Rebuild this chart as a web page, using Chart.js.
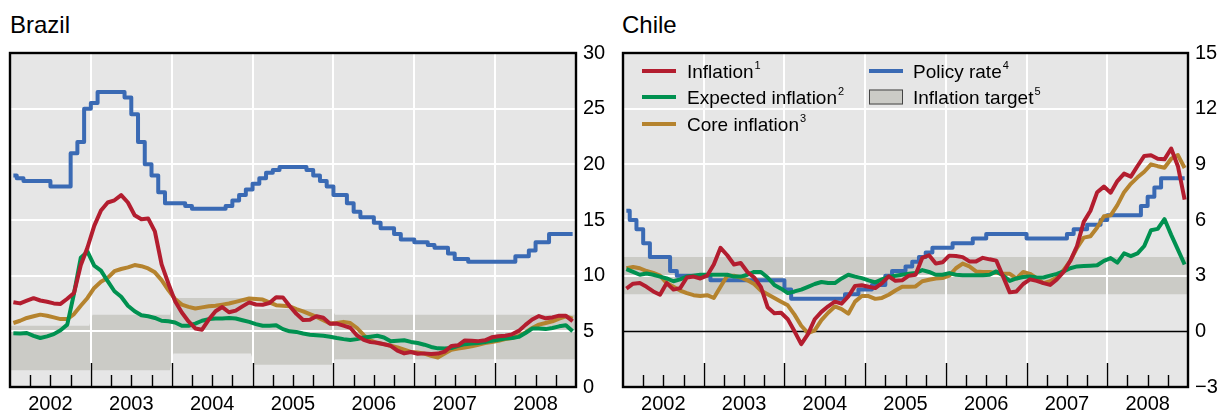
<!DOCTYPE html>
<html>
<head>
<meta charset="utf-8">
<script src="https://cdn.jsdelivr.net/npm/chart.js@4.4.1/dist/chart.umd.min.js"></script>
<style>
  body { margin: 0; background: #fff; width: 1218px; height: 412px; overflow: hidden; font-family: "Liberation Sans", Arial, sans-serif; }
  .panel { position: absolute; top: 0; height: 412px; }
  .title { position: absolute; top: 11px; font-size: 24px; color: #000; }
</style>
</head>
<body>
<div class="title" style="left:10px">Brazil</div>
<div class="title" style="left:622px">Chile</div>
<div class="panel" style="left:0;width:612px"><canvas id="brazil-chart"></canvas></div>
<div class="panel" style="left:610px;width:608px"><canvas id="chile-chart"></canvas></div>

<script>
// years on the x axis, monthly data from Jan 2002 to Dec 2008
var years = [2002, 2003, 2004, 2005, 2006, 2007, 2008];
var yearLabels = ['2002', '2003', '2004', '2005', '2006', '2007', '2008'];

var brazilTicks = [0, 5, 10, 15, 20, 25, 30];
var chileTicks = [-3, 0, 3, 6, 9, 12, 15];

// Brazil
var brazilInflation = [
    7.62, 7.51, 7.75, 7.98, 7.77, 7.66, 7.51, 7.46, 7.93, 8.45, 10.93, 12.53,
    14.47, 15.85, 16.57, 16.77, 17.24, 16.57, 15.43, 15.07, 15.14, 13.98, 11.02, 9.30,
    7.71, 6.69, 5.89, 5.26, 5.15, 6.06, 6.81, 7.18, 6.71, 6.86, 7.24, 7.60,
    7.41, 7.39, 7.54, 8.07, 8.05, 7.27, 6.57, 6.02, 6.04, 6.36, 6.22, 5.69,
    5.70, 5.51, 5.32, 4.63, 4.23, 4.03, 3.97, 3.84, 3.70, 3.26, 3.02, 3.14,
    2.99, 3.02, 2.96, 3.00, 3.18, 3.69, 3.74, 4.18, 4.15, 4.12, 4.19, 4.46,
    4.56, 4.61, 4.73, 5.04, 5.58, 6.06, 6.37, 6.17, 6.25, 6.41, 6.39, 5.90
];
var brazilExpected = [
    4.82, 4.8, 4.85, 4.6, 4.4, 4.55, 4.75, 5.1, 5.6, 8.4, 11.6, 12.15,
    10.9, 10.45, 9.5, 8.6, 8.1, 7.3, 6.8, 6.45, 6.35, 6.2, 5.95, 5.9,
    5.8, 5.5, 5.5, 5.7, 5.95, 6.1, 6.15, 6.15, 6.2, 6.15, 6.0, 5.85,
    5.65, 5.5, 5.5, 5.55, 5.2, 5.0, 4.95, 4.8, 4.7, 4.65, 4.6, 4.52,
    4.4, 4.3, 4.22, 4.3, 4.45, 4.52, 4.6, 4.45, 4.1, 4.15, 4.2, 4.05,
    3.95, 3.8, 3.6, 3.47, 3.45, 3.5, 3.7, 3.85, 3.9, 3.95, 4.05, 4.15,
    4.25, 4.35, 4.4, 4.5, 4.85, 5.25, 5.25, 5.2, 5.3, 5.45, 5.55, 5.0
];
var brazilCore = [
    5.75, 5.95, 6.2, 6.35, 6.5, 6.4, 6.25, 6.1, 6.1, 6.55, 7.3, 8.0,
    8.9, 9.45, 9.8, 10.4, 10.6, 10.75, 10.95, 10.85, 10.65, 10.3, 9.6, 8.7,
    7.9, 7.4, 7.2, 7.05, 7.15, 7.25, 7.3, 7.4, 7.5, 7.65, 7.8, 7.95,
    7.9, 7.85, 7.6, 7.35, 7.3, 7.25, 7.0, 6.8, 6.55, 6.3, 6.0, 5.7,
    5.75, 5.85, 5.75, 5.3, 4.65, 4.2, 3.95, 3.85, 3.7, 3.55, 3.35, 3.15,
    3.1, 3.0, 2.8, 2.65, 3.0, 3.35, 3.45, 3.55, 3.65, 3.8, 3.95, 4.05,
    4.15, 4.3, 4.4, 4.6, 4.9, 5.3, 5.6, 5.75, 5.9, 6.15, 6.35, 6.15
];
var brazilPolicy = [
    19, 18.75, 18.5, 18.5, 18.5, 18.5, 18, 18, 18, 21, 22, 25,
    25.5, 26.5, 26.5, 26.5, 26.5, 26, 24.5, 22, 20, 19, 17.5, 16.5,
    16.5, 16.5, 16.25, 16, 16, 16, 16, 16, 16.25, 16.75, 17.25, 17.75,
    18.25, 18.75, 19.25, 19.5, 19.75, 19.75, 19.75, 19.75, 19.5, 19, 18.5, 18,
    17.25, 17.25, 16.5, 15.75, 15.25, 15.25, 14.75, 14.25, 14.25, 13.75, 13.25, 13.25,
    13, 13, 12.75, 12.5, 12.5, 12, 11.5, 11.5, 11.25, 11.25, 11.25, 11.25,
    11.25, 11.25, 11.25, 11.75, 11.75, 12.25, 13, 13, 13.75, 13.75, 13.75, 13.75
];
var brazilTargetUpper = [5.5, 6.5, 8, 7, 6.5, 6.5, 6.5];
var brazilTargetLower = [1.5, 1.5, 3, 2, 2.5, 2.5, 2.5];

// Chile
var chileInflation = [
    2.3, 2.57, 2.6, 2.4, 2.15, 1.97, 2.6, 2.25, 2.33, 2.9, 2.95, 2.85,
    3.0, 3.6, 4.5, 4.1, 3.6, 3.68, 3.2, 2.9, 2.4, 1.3, 0.98, 1.0,
    0.65, 0.0, -0.69, -0.15, 0.65, 1.05, 1.35, 1.6, 1.49, 1.88, 2.45, 2.48,
    2.4, 2.33, 2.6, 2.96, 2.72, 2.75, 3.0, 3.05, 3.96, 4.1, 3.65, 3.72,
    4.08, 4.06, 4.0, 3.77, 3.77, 3.96, 3.88, 3.81, 2.96, 2.1, 2.15, 2.55,
    2.8, 2.72, 2.6, 2.5, 2.8, 3.2, 3.8, 4.6, 5.9, 6.5, 7.5, 7.8,
    7.47, 8.1, 8.5, 8.34, 8.91, 9.45, 9.49, 9.3, 9.27, 9.85, 8.9, 7.1
];
var chileExpected = [
    3.35, 3.2, 3.05, 3.12, 3.05, 2.95, 2.85, 2.7, 2.8, 2.95, 3.0, 3.05,
    3.05, 3.05, 3.05, 3.05, 2.95, 2.95, 3.05, 3.2, 3.2, 2.9, 2.5, 2.3,
    2.06, 2.15, 2.25, 2.4, 2.55, 2.66, 2.6, 2.6, 2.85, 3.05, 2.95, 2.87,
    2.75, 2.64, 2.8, 2.93, 3.0, 3.05, 3.1, 3.15, 3.3, 3.2, 3.05, 3.05,
    3.14, 3.05, 3.02, 3.02, 3.02, 3.02, 3.05, 3.23, 3.0, 2.72, 2.85, 2.93,
    2.96, 2.9, 2.9, 3.0, 3.1, 3.23, 3.4, 3.5, 3.52, 3.54, 3.56, 3.8,
    3.95, 3.7, 4.2, 4.05, 4.2, 4.6, 5.45, 5.52, 6.05, 5.2, 4.4, 3.6
];
var chileCore = [
    3.4, 3.47, 3.4, 3.25, 3.15, 3.0, 2.6, 2.4, 2.2, 2.06, 1.95, 1.9,
    1.95, 1.8, 2.4, 3.0, 3.0, 2.9, 2.75, 2.55, 2.2, 2.0, 1.8, 1.6,
    1.4, 0.9, 0.3, -0.1, 0.05, 0.6, 1.0, 1.34, 1.2, 0.95, 1.6, 1.9,
    1.9, 1.75, 1.8, 1.97, 2.2, 2.4, 2.4, 2.42, 2.7, 2.78, 2.85, 2.87,
    3.0, 3.4, 3.65, 3.5, 3.23, 3.2, 3.2, 3.15, 3.1, 3.1, 2.85, 3.2,
    3.1, 2.87, 2.6, 2.7, 2.9, 3.3, 3.8, 4.5, 5.05, 5.12, 5.6, 6.2,
    6.25, 6.8, 7.5, 7.95, 8.3, 8.6, 9.0, 8.9, 8.82, 9.3, 9.5, 8.8
];
var chilePolicy = [
    6.5, 6.0, 5.5, 4.75, 4.0, 4.0, 4.0, 3.25, 3.0, 3.0, 3.0, 3.0,
    3.0, 2.75, 2.75, 2.75, 2.75, 2.75, 2.75, 2.75, 2.75, 2.75, 2.75, 2.75,
    2.25, 1.75, 1.75, 1.75, 1.75, 1.75, 1.75, 1.75, 1.75, 2.0, 2.0, 2.25,
    2.25, 2.5, 2.5, 3.0, 3.25, 3.25, 3.5, 3.75, 4.0, 4.25, 4.5, 4.5,
    4.5, 4.75, 4.75, 4.75, 5.0, 5.0, 5.25, 5.25, 5.25, 5.25, 5.25, 5.25,
    5.0, 5.0, 5.0, 5.0, 5.0, 5.0, 5.25, 5.5, 5.5, 5.75, 5.75, 6.0,
    6.25, 6.25, 6.25, 6.25, 6.25, 6.75, 7.25, 7.75, 8.25, 8.25, 8.25, 8.25
];
var chileTargetUpper = [4, 4, 4, 4, 4, 4, 4];
var chileTargetLower = [2, 2, 2, 2, 2, 2, 2];

var legendLabels = ['Inflation', 'Expected inflation', 'Core inflation', 'Policy rate', 'Inflation target'];
var legendNotes = ['1', '2', '3', '4', '5'];

var colorInflation = '#b31d2f';
var colorExpected = '#009150';
var colorCore = '#b5832e';
var colorPolicy = '#3a6ab4';
var colorBand = '#cbcbc6';
var colorPlot = '#e6e6e6';
var fontFamily = '"Liberation Sans", Arial, sans-serif';

Chart.defaults.font.family = fontFamily;
Chart.defaults.color = '#000';

function monthly(values) {
    return values.map(function (v, i) {
        return { x: years[0] + (i + 0.5) / 12, y: v };
    });
}

// target band: flat for each year, short slant between years
function band(values) {
    var pts = [];
    values.forEach(function (v, k) {
        var yr = years[k];
        pts.push({ x: k === 0 ? yr : yr + 0.02, y: v });
        pts.push({ x: k === values.length - 1 ? yr + 1 : yr + 0.98, y: v });
    });
    return pts;
}

function lineSet(label, color, values, stepped) {
    return {
        label: label,
        data: monthly(values),
        borderColor: color,
        borderWidth: 4,
        pointRadius: 0,
        fill: false,
        stepped: stepped ? 'middle' : false,
        borderJoinStyle: 'round'
    };
}

var panelPlugin = {
    id: 'panel',
    beforeDraw: function (chart) {
        var a = chart.chartArea, ctx = chart.ctx;
        ctx.save();
        ctx.fillStyle = colorPlot;
        ctx.fillRect(a.left, a.top, a.right - a.left, a.bottom - a.top);
        ctx.restore();
    },
    afterDatasetDraw: function (chart, args) {
        if (!chart.data.datasets[args.index].gridAfter) return;
        var a = chart.chartArea, ctx = chart.ctx;
        var xs = chart.scales.x, ys = chart.scales.y;
        ctx.save();
        ctx.strokeStyle = '#fff';
        ctx.lineWidth = 2;
        ctx.beginPath();
        years.slice(1).forEach(function (yr) {
            var px = Math.round(xs.getPixelForValue(yr));
            ctx.moveTo(px, a.top);
            ctx.lineTo(px, a.bottom);
        });
        ys.ticks.forEach(function (t) {
            if (t.value === ys.min || t.value === ys.max || t.value === 0) return;
            var py = Math.round(ys.getPixelForValue(t.value));
            ctx.moveTo(a.left, py);
            ctx.lineTo(a.right, py);
        });
        ctx.stroke();
        if (ys.min < 0) {
            var zy = Math.round(ys.getPixelForValue(0)) + 0.5;
            ctx.strokeStyle = '#000';
            ctx.lineWidth = 1.3;
            ctx.beginPath();
            ctx.moveTo(a.left, zy);
            ctx.lineTo(a.right, zy);
            ctx.stroke();
        }
        ctx.restore();
    },
    afterDraw: function (chart) {
        var a = chart.chartArea, ctx = chart.ctx, xs = chart.scales.x;
        ctx.save();
        ctx.strokeStyle = '#000';
        ctx.lineWidth = 1.4;
        ctx.beginPath();
        years.forEach(function (yr, k) {
            for (var q = 0; q < 4; q++) {
                if (k === 0 && q === 0) continue;
                var px = Math.round(xs.getPixelForValue(yr + q / 4)) + 0.5;
                ctx.moveTo(px, a.bottom);
                ctx.lineTo(px, a.bottom - (q === 0 ? 24 : 12));
            }
        });
        ctx.stroke();
        ctx.lineWidth = 2.4;
        ctx.strokeRect(a.left, a.top, a.right - a.left, a.bottom - a.top);
        ctx.restore();
    }
};

var legendPlugin = {
    id: 'innerLegend',
    afterDraw: function (chart) {
        var a = chart.chartArea, ctx = chart.ctx;
        var colors = [colorInflation, colorExpected, colorCore, colorPolicy];
        var rows = [18, 44, 71];
        ctx.save();
        legendLabels.forEach(function (label, i) {
            var col = i < 3 ? 0 : 1;
            var row = i < 3 ? i : i - 3;
            var sx = a.left + (col === 0 ? 19 : 246);
            var tx = a.left + (col === 0 ? 64 : 290);
            var y = a.top + rows[row];
            if (i < 4) {
                ctx.strokeStyle = colors[i];
                ctx.lineWidth = 4;
                ctx.beginPath();
                ctx.moveTo(sx, y);
                ctx.lineTo(sx + 34, y);
                ctx.stroke();
            } else {
                ctx.fillStyle = colorBand;
                ctx.fillRect(sx, y - 7.5, 34, 15);
                ctx.strokeStyle = '#444';
                ctx.lineWidth = 1;
                ctx.strokeRect(sx + 0.5, y - 7, 33, 14);
            }
            ctx.fillStyle = '#000';
            ctx.textBaseline = 'alphabetic';
            ctx.font = '19px ' + fontFamily;
            ctx.fillText(label, tx, y + 7);
            var w = ctx.measureText(label).width;
            ctx.font = '11px ' + fontFamily;
            ctx.fillText(legendNotes[i], tx + w + 1, y - 2);
        });
        ctx.restore();
    }
};

function createPanel(canvasId, padLeft, padRight, tickValues, step, series, target, plugins) {
    var datasets = [
        lineSet('Inflation', colorInflation, series[0], false),
        lineSet('Expected inflation', colorExpected, series[1], false),
        lineSet('Core inflation', colorCore, series[2], false),
        lineSet('Policy rate', colorPolicy, series[3], true),
        {
            label: 'Inflation target',
            data: band(target[0]),
            borderWidth: 0,
            borderColor: 'rgba(0,0,0,0)',
            backgroundColor: colorBand,
            pointRadius: 0,
            fill: '+1',
            gridAfter: true
        },
        {
            label: 'target low',
            data: band(target[1]),
            borderWidth: 0,
            borderColor: 'rgba(0,0,0,0)',
            pointRadius: 0,
            fill: false
        }
    ];

    var options = {
        type: 'line',
        data: { datasets: datasets },
        options: {
            responsive: true,
            maintainAspectRatio: false,
            animation: false,
            events: [],
            layout: { padding: { left: padLeft, right: padRight, top: 53, bottom: 0 } },
            plugins: {
                legend: { display: false },
                tooltip: { enabled: false },
                title: { display: false }
            },
            scales: {
                x: {
                    type: 'linear',
                    min: years[0],
                    max: years[years.length - 1] + 1,
                    grid: { display: false, drawTicks: false },
                    border: { display: false },
                    afterBuildTicks: function (scale) {
                        scale.ticks = years.map(function (yr) { return { value: yr + 0.5 }; });
                    },
                    afterFit: function (scale) { scale.height = 25; },
                    ticks: {
                        autoSkip: false,
                        maxRotation: 0,
                        padding: 5,
                        font: { size: 20 },
                        color: '#000',
                        callback: function (value, index) { return yearLabels[index]; }
                    }
                },
                y: {
                    position: 'right',
                    min: tickValues[0],
                    max: tickValues[tickValues.length - 1],
                    grid: { display: false, drawTicks: false },
                    border: { display: false },
                    afterFit: function (scale) { scale.width = 30; },
                    ticks: {
                        stepSize: step,
                        padding: 7,
                        font: { size: 20 },
                        color: '#000',
                        callback: function (value) {
                            return value < 0 ? '\u2212' + Math.abs(value) : String(value);
                        }
                    }
                }
            }
        },
        plugins: plugins
    };
    return new Chart(document.querySelector(canvasId), options);
}

var brazilChart = createPanel('#brazil-chart', 10, 6, brazilTicks, 5,
    [brazilInflation, brazilExpected, brazilCore, brazilPolicy],
    [brazilTargetUpper, brazilTargetLower], [panelPlugin]);

var chileChart = createPanel('#chile-chart', 13, 0, chileTicks, 3,
    [chileInflation, chileExpected, chileCore, chilePolicy],
    [chileTargetUpper, chileTargetLower], [panelPlugin, legendPlugin]);
</script>
</body>
</html>
